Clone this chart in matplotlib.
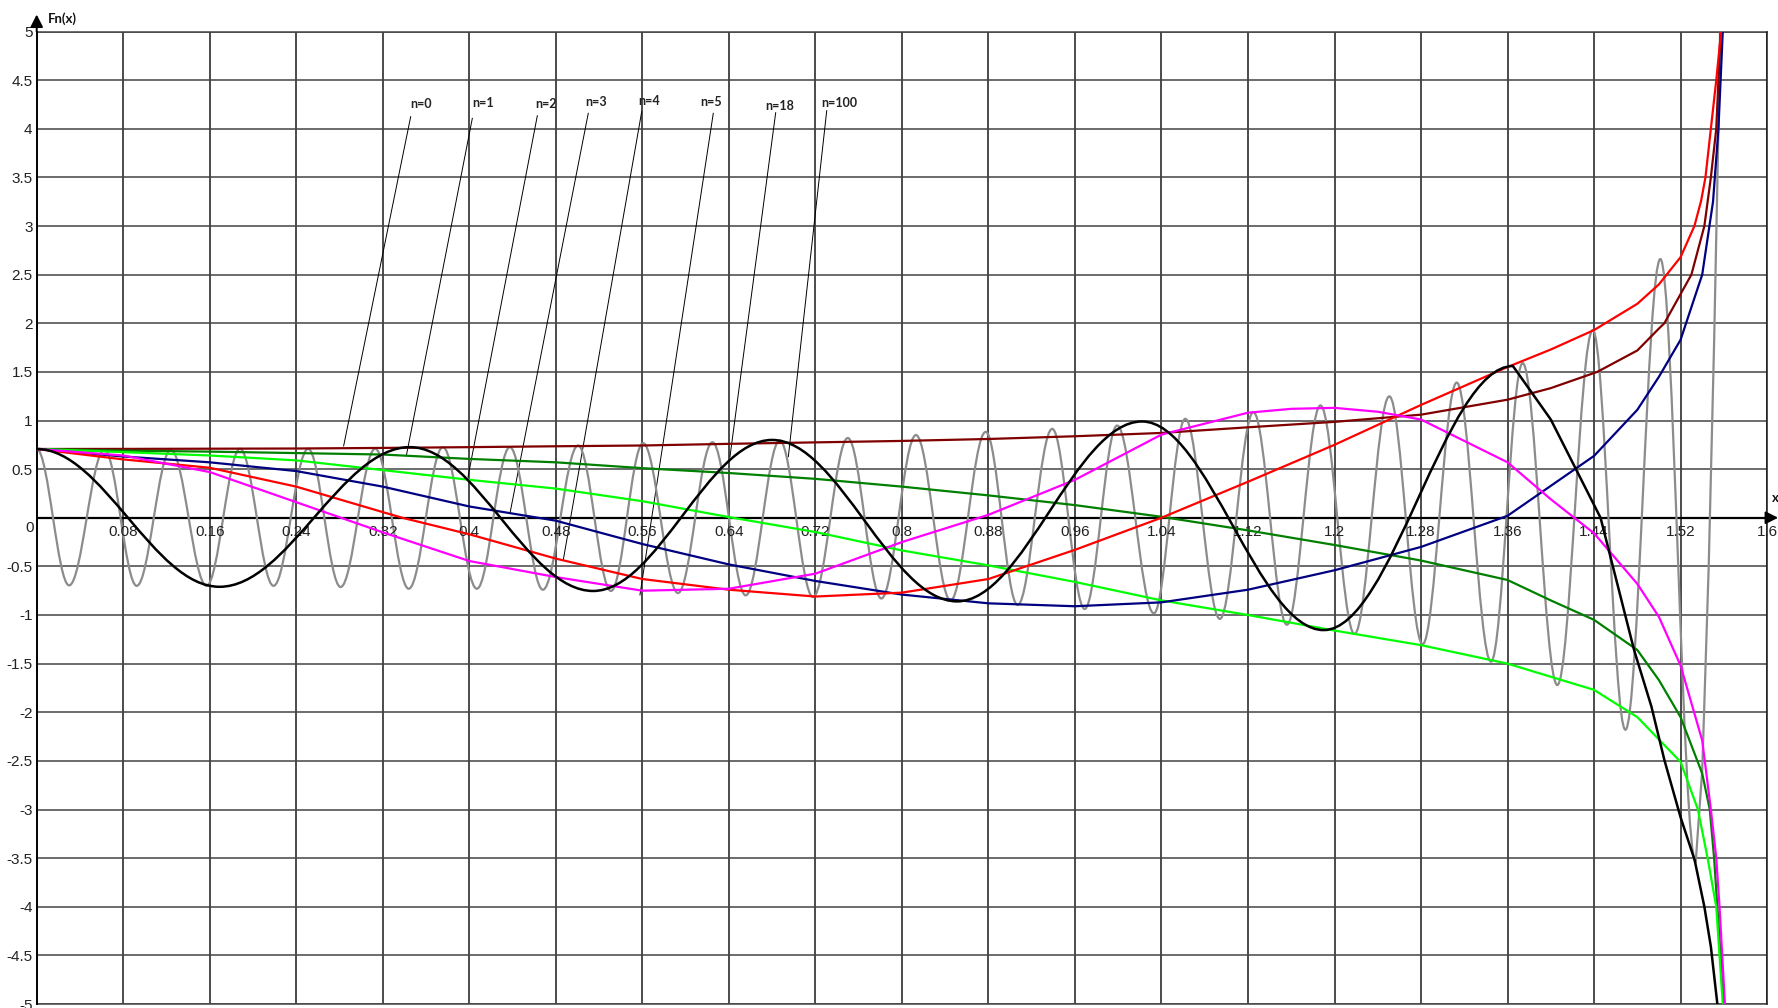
import numpy as np
import matplotlib
matplotlib.use("Agg")
import matplotlib.pyplot as plt
from matplotlib.path import Path
from matplotlib.patches import PathPatch

# ---------------- data ----------------
x_n0 = [0, 0.08, 0.16, 0.24, 0.32, 0.40, 0.48, 0.56, 0.64, 0.72, 0.80, 0.88, 0.96, 1.04,
        1.12, 1.20, 1.28, 1.36, 1.40, 1.443, 1.48, 1.50, 1.505, 1.52, 1.53, 1.542, 1.548, 1.553, 1.557]
y_n0 = [0.707, 0.708, 0.71, 0.712, 0.718, 0.726, 0.735, 0.743, 0.76, 0.775, 0.79, 0.81, 0.838, 0.872,
        0.93, 0.986, 1.06, 1.214, 1.333, 1.5, 1.72, 1.946, 2.0, 2.30, 2.5, 3.0, 3.5, 4.0, 5.0]

x_n1 = [0, 0.08, 0.16, 0.24, 0.32, 0.40, 0.48, 0.56, 0.64, 0.72, 0.80, 0.88, 0.96, 1.04,
        1.12, 1.20, 1.28, 1.36, 1.40, 1.44, 1.48, 1.50, 1.52, 1.54, 1.547, 1.551, 1.554, 1.56]
y_n1 = [0.707, 0.69, 0.68, 0.665, 0.65, 0.605, 0.57, 0.51, 0.46, 0.40, 0.32, 0.23, 0.13, 0.01,
        -0.13, -0.28, -0.44, -0.64, -0.85, -1.05, -1.36, -1.67, -2.05, -2.63, -3.0, -3.5, -4.0, -5.0]

x_n2 = [0, 0.08, 0.16, 0.24, 0.32, 0.40, 0.48, 0.56, 0.64, 0.72, 0.80, 0.88, 0.96, 1.04,
        1.12, 1.20, 1.28, 1.36, 1.44, 1.48, 1.52, 1.536, 1.545, 1.553, 1.556, 1.559]
y_n2 = [0.707, 0.675, 0.64, 0.59, 0.49, 0.39, 0.30, 0.17, 0.007, -0.147, -0.336, -0.49, -0.66, -0.85,
        -1.0, -1.16, -1.31, -1.50, -1.77, -2.05, -2.51, -3.0, -3.5, -4.0, -4.5, -5.0]

x_n3 = [0, 0.08, 0.16, 0.24, 0.32, 0.40, 0.48, 0.56, 0.64, 0.72, 0.80, 0.88, 0.96, 1.04,
        1.12, 1.20, 1.28, 1.36, 1.44, 1.48, 1.50, 1.52, 1.54, 1.55, 1.555, 1.559]
y_n3 = [0.707, 0.63, 0.57, 0.48, 0.32, 0.116, -0.03, -0.27, -0.48, -0.65, -0.79, -0.88, -0.91, -0.87,
        -0.74, -0.54, -0.30, 0.02, 0.636, 1.11, 1.45, 1.83, 2.5, 3.25, 4.0, 5.0]

x_n4 = [0, 0.08, 0.16, 0.24, 0.32, 0.338, 0.40, 0.48, 0.56, 0.64, 0.72, 0.80, 0.88, 0.96, 1.04,
        1.12, 1.20, 1.28, 1.36, 1.40, 1.44, 1.48, 1.50, 1.52, 1.5328, 1.539, 1.543, 1.548, 1.553, 1.5575]
y_n4 = [0.707, 0.60, 0.514, 0.32, 0.058, 0.0, -0.17, -0.42, -0.63, -0.74, -0.81, -0.77, -0.63, -0.33, 0.0,
        0.37, 0.75, 1.16, 1.55, 1.73, 1.93, 2.2, 2.4, 2.68, 3.0, 3.26, 3.5, 4.0, 4.5, 5.0]

x_n5 = [0, 0.08, 0.16, 0.24, 0.32, 0.40, 0.48, 0.56, 0.64, 0.72, 0.80, 0.88, 0.96, 1.04,
        1.12, 1.16, 1.20, 1.24, 1.28, 1.36, 1.40, 1.44, 1.48, 1.50, 1.52, 1.54, 1.548, 1.553, 1.556, 1.561]
y_n5 = [0.707, 0.64, 0.47, 0.16, -0.15, -0.445, -0.61, -0.75, -0.73, -0.575, -0.25, 0.03, 0.39, 0.855,
        1.08, 1.12, 1.13, 1.09, 1.01, 0.57, 0.19, -0.16, -0.68, -1.02, -1.52, -2.29, -3.0, -3.5, -4.0, -5.0]

# n=18: turning points, then the final plunge
x_n18_ext = [0, 0.169, 0.345, 0.5145, 0.68, 0.851, 1.022, 1.19, 1.365]
y_n18_ext = [0.707, -0.71, 0.726, -0.753, 0.80, -0.86, 0.99, -1.155, 1.56]
x_n18_tail = [1.365, 1.40, 1.446, 1.477, 1.493, 1.505, 1.52, 1.533, 1.542, 1.548, 1.554]
y_n18_tail = [1.56, 1.01, 0.0, -1.36, -1.94, -2.49, -3.08, -3.52, -4.0, -4.41, -5.0]

# n=100: turning points, then the final rise
x_n100_ext = [0, 0.030, 0.0626, 0.0925, 0.124, 0.157, 0.188, 0.219, 0.251, 0.281, 0.313, 0.344,
              0.3756, 0.407, 0.4375, 0.468, 0.5006, 0.531, 0.5607, 0.593, 0.6248, 0.6556, 0.687,
              0.7178, 0.750, 0.781, 0.813, 0.845, 0.8775, 0.907, 0.939, 0.969, 0.999, 1.033,
              1.062, 1.094, 1.125, 1.156, 1.187, 1.2185, 1.2507, 1.2815, 1.313, 1.3447, 1.374,
              1.406, 1.4388, 1.469, 1.5013, 1.534]
y_n100_ext = [0.707, -0.695, 0.70, -0.70, 0.70, -0.70, 0.709, -0.70, 0.709, -0.712, 0.71, -0.73,
              0.726, -0.73, 0.726, -0.74, 0.743, -0.753, 0.767, -0.774, 0.777, -0.798, 0.795,
              -0.815, 0.82, -0.83, 0.85, -0.85, 0.883, -0.897, 0.914, -0.938, 0.948, -0.983,
              1.017, -1.04, 1.086, -1.10, 1.155, -1.195, 1.248, -1.30, 1.39, -1.48, 1.59,
              -1.72, 1.93, -2.18, 2.66, -3.54]
x_n100_tail = [1.534, 1.540, 1.546, 1.551, 1.555, 1.558]
y_n100_tail = [-3.54, -2.6, -0.5, 1.8, 4.0, 6.0]

x_ticks = [0.08, 0.16, 0.24, 0.32, 0.40, 0.48, 0.56, 0.64, 0.72, 0.80, 0.88, 0.96, 1.04,
           1.12, 1.20, 1.28, 1.36, 1.44, 1.52, 1.60]
x_tick_labels = ['0.08', '0.16', '0.24', '0.32', '0.4', '0.48', '0.56', '0.64', '0.72', '0.8',
                 '0.88', '0.96', '1.04', '1.12', '1.2', '1.28', '1.36', '1.44', '1.52', '1.6']
y_ticks = [-5, -4.5, -4, -3.5, -3, -2.5, -2, -1.5, -1, -0.5, 0, 0.5, 1, 1.5, 2, 2.5, 3, 3.5, 4, 4.5, 5]
y_tick_labels = ['-5', '-4.5', '-4', '-3.5', '-3', '-2.5', '-2', '-1.5', '-1', '-0.5', '', '0.5',
                 '1', '1.5', '2', '2.5', '3', '3.5', '4', '4.5', '5']

labels = ['n=0', 'n=1', 'n=2', 'n=3', 'n=4', 'n=5', 'n=18', 'n=100']
label_xy = [(0.3553, 4.253), (0.4127, 4.264), (0.471, 4.253), (0.5172, 4.275),
            (0.5661, 4.285), (0.6235, 4.275), (0.6873, 4.234), (0.7419, 4.264)]
leader_start = [(0.3458, 4.124), (0.4028, 4.107), (0.4629, 4.134), (0.51, 4.159),
                (0.5594, 4.175), (0.6256, 4.159), (0.6833, 4.165), (0.7305, 4.186)]
leader_end = [(0.2838, 0.738), (0.3419, 0.645), (0.3988, 0.419), (0.4376, 0.045),
              (0.4869, -0.434), (0.5578, -0.794), (0.641, 0.625), (0.695, 0.628)]

# ---------------- figure ----------------
W, H = 1778, 1008
fig = plt.figure(figsize=(W / 100, H / 100), dpi=100)
left_px, right_px, top_px, bottom_px = 36.7, 1767.1, 31.5, 1004.0
ax = fig.add_axes([left_px / W, (H - bottom_px) / H, (right_px - left_px) / W, (bottom_px - top_px) / H])
ax.set_xlim(0, 1.6)
ax.set_ylim(-5, 5)

tick_font = ['Liberation Sans Narrow', 'Liberation Sans', 'DejaVu Sans']
ax.set_xticks(x_ticks)
ax.set_xticklabels([])
ax.set_yticks(y_ticks)
ax.set_yticklabels(y_tick_labels, family=tick_font, fontsize=11, color='#222222')
ax.tick_params(axis='both', length=0)
ax.tick_params(axis='y', pad=3)
ax.xaxis.grid(True, color='#1a1a1a', linewidth=1.1)
ax.yaxis.grid(True, color='#444444', linewidth=1.1)
ax.set_axisbelow(True)
for s in ['top', 'right', 'bottom']:
    ax.spines[s].set_visible(False)
ax.spines['left'].set_color('black')
ax.spines['left'].set_linewidth(1.4)
ax.axhline(0, color='black', linewidth=1.6, zorder=1.5)
ax.axhline(5, color='#444444', linewidth=1.1, zorder=1.4, clip_on=False)
ax.axhline(-5, color='#444444', linewidth=1.1, zorder=1.4, clip_on=False)
ax.axvline(1.6, color='#1a1a1a', linewidth=1.1, zorder=1.4, clip_on=False)

for xv, lab in zip(x_ticks, x_tick_labels):
    ax.annotate(lab, xy=(xv, 0), xytext=(0, -5), textcoords='offset points',
                ha='center', va='top', family=tick_font, fontsize=11, color='#222222')
ax.annotate('0', xy=(0, 0), xytext=(-2, -2), textcoords='offset points',
            ha='right', va='top', family=tick_font, fontsize=11, color='#222222')

# axis arrows
ax.annotate('', xy=(0, 1 + 17 / 972.5), xycoords='axes fraction', xytext=(0, 1),
            textcoords='axes fraction', annotation_clip=False,
            arrowprops=dict(arrowstyle='-|>,head_length=0.75,head_width=0.38', color='black',
                            lw=1.4, shrinkA=0, shrinkB=0))
ax.annotate('', xy=(1 + 11 / 1730.4, 0.5), xycoords='axes fraction', xytext=(1, 0.5),
            textcoords='axes fraction', annotation_clip=False,
            arrowprops=dict(arrowstyle='-|>,head_length=0.75,head_width=0.38', color='black',
                            lw=1.4, shrinkA=0, shrinkB=0))
fig.text(48 / W, 1 - 19 / H, 'Fn(x)', ha='left', va='center', fontsize=9.5, fontweight='bold',
         family=['Lato', 'DejaVu Sans'], color='#111111')
fig.text(1772 / W, 1 - 498 / H, 'x', ha='left', va='center', fontsize=9.5, fontweight='bold',
         family=['Lato', 'DejaVu Sans'], color='#111111')

# smooth curves
lw = 1.6
ax.plot(x_n0, y_n0, color='#800000', lw=lw, zorder=3)
ax.plot(x_n1, y_n1, color='#008000', lw=lw, zorder=3)
ax.plot(x_n2, y_n2, color='#00ff00', lw=lw, zorder=3)
ax.plot(x_n3, y_n3, color='#000080', lw=lw, zorder=3)
ax.plot(x_n4, y_n4, color='#ff0000', lw=lw, zorder=3)
ax.plot(x_n5, y_n5, color='#ff00ff', lw=lw, zorder=3)


def wave_path(xs, ys, k=0.36):
    """Path through turning points with horizontal tangents at each one."""
    verts = [(xs[0], ys[0])]
    codes = [Path.MOVETO]
    for i in range(len(xs) - 1):
        d = (xs[i + 1] - xs[i]) * k
        verts += [(xs[i] + d, ys[i]), (xs[i + 1] - d, ys[i + 1]), (xs[i + 1], ys[i + 1])]
        codes += [Path.CURVE4] * 3
    return Path(verts, codes)


ax.add_patch(PathPatch(wave_path(x_n100_ext, y_n100_ext), facecolor='none', edgecolor='#8c8c8c',
                       lw=lw, zorder=2.8))
ax.plot(x_n100_tail, y_n100_tail, color='#8c8c8c', lw=lw, zorder=2.8)
ax.add_patch(PathPatch(wave_path(x_n18_ext, y_n18_ext), facecolor='none', edgecolor='black',
                       lw=1.8, zorder=3.2))
ax.plot(x_n18_tail, y_n18_tail, color='black', lw=1.8, zorder=3.2)

# labels with leader lines
for lab, (tx, ty), (sx, sy), (ex, ey) in zip(labels, label_xy, leader_start, leader_end):
    ax.plot([sx, ex], [sy, ey], color='black', lw=0.7, zorder=2.5)
    ax.text(tx, ty, lab, ha='center', va='center', fontsize=9, fontweight='bold',
            family=['Lato', 'DejaVu Sans'], color='#222222', zorder=4)

fig.savefig('out.png', dpi=100)
